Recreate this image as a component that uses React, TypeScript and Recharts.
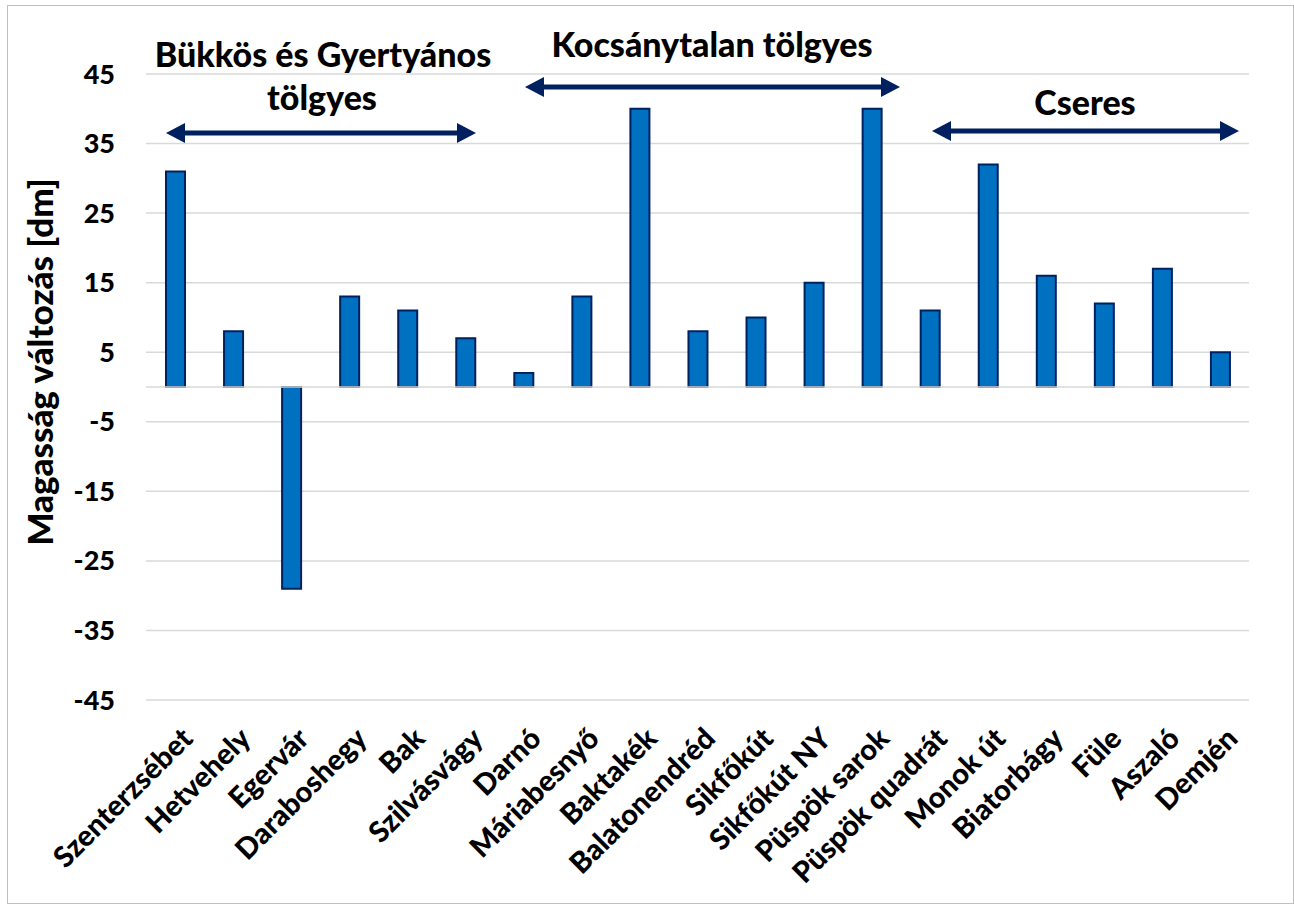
import { BarChart, Bar, XAxis, YAxis, CartesianGrid, ReferenceLine } from 'recharts';

const SITES = [
  'Szenterzsébet',
  'Hetvehely',
  'Egervár',
  'Daraboshegy',
  'Bak',
  'Szilvásvágy',
  'Darnó',
  'Máriabesnyő',
  'Baktakék',
  'Balatonendréd',
  'Sikfőkút',
  'Sikfőkút NY',
  'Püspök sarok',
  'Püspök quadrát',
  'Monok út',
  'Biatorbágy',
  'Füle',
  'Aszaló',
  'Demjén',
];
const HEIGHT_CHANGE = [31, 8, -29, 13, 11, 7, 2, 13, 40, 8, 10, 15, 40, 11, 32, 16, 12, 17, 5];
const Y_TICKS = [-45, -35, -25, -15, -5, 5, 15, 25, 35, 45];
const Y_TITLE = 'Magasság változás [dm]';

const FONT = "Lato, 'Open Sans', sans-serif";
const NAVY = '#002060';
const BAR_FILL = '#0070C0';
const GRID = '#d9d9d9';

const data = SITES.map((site, i) => ({ site, value: HEIGHT_CHANGE[i] }));

function SiteTick(props: any) {
  const { x, y, payload } = props;
  return (
    <g transform={`translate(${x + 3},${y + 24}) rotate(-45)`}>
      <text
        textAnchor="end"
        dominantBaseline="hanging"
        fontFamily={FONT}
        fontWeight={900}
        fontSize={29}
        fill="#000"
      >
        {payload.value}
      </text>
    </g>
  );
}

// double-headed arrow used for the forest type brackets
function Arrow({ x1, x2, y }: { x1: number; x2: number; y: number }) {
  const head = 19;
  const half = 10;
  return (
    <g fill={NAVY}>
      <line x1={x1 + head - 2} x2={x2 - head + 2} y1={y} y2={y} stroke={NAVY} strokeWidth={5} />
      <polygon points={`${x1},${y} ${x1 + head},${y - half} ${x1 + head},${y + half}`} />
      <polygon points={`${x2},${y} ${x2 - head},${y - half} ${x2 - head},${y + half}`} />
    </g>
  );
}

const labelStyle = { fontFamily: FONT, fontWeight: 900, fontSize: 34, fill: '#000' };

export default function App() {
  return (
    <div style={{ position: 'absolute', left: 0, top: 0, width: 1294, height: 904, background: '#fff' }}>
      <div
        style={{
          position: 'absolute',
          left: 7,
          top: 5,
          width: 1287,
          height: 899,
          boxSizing: 'border-box',
          border: '1.5px solid #bfbfbf',
        }}
      />
      <div style={{ position: 'absolute', left: 0, top: 0 }}>
        <BarChart width={1294} height={904} data={data} margin={{ top: 74, right: 45, bottom: 0, left: 0 }}>
          <CartesianGrid stroke={GRID} strokeWidth={1.5} vertical={false} />
          <XAxis
            dataKey="site"
            interval={0}
            height={204}
            axisLine={false}
            tickLine={false}
            tickSize={0}
            tickMargin={0}
            tick={<SiteTick />}
          />
          <YAxis
            domain={[-45, 45]}
            ticks={Y_TICKS}
            interval={0}
            width={146}
            axisLine={false}
            tickLine={false}
            tickSize={0}
            tickMargin={31}
            tick={{ fill: '#000', fontSize: 27, fontWeight: 900, fontFamily: FONT }}
          />
          <ReferenceLine y={0} stroke={GRID} strokeWidth={1.5} />
          <Bar
            dataKey="value"
            barSize={19}
            fill={BAR_FILL}
            stroke={NAVY}
            strokeWidth={2}
            isAnimationActive={false}
          />
        </BarChart>
      </div>
      <svg width={1294} height={904} style={{ position: 'absolute', left: 0, top: 0, pointerEvents: 'none' }}>
        <text
          transform="translate(39,362) rotate(-90)"
          textAnchor="middle"
          dominantBaseline="central"
          {...labelStyle}
          fontSize={35}
        >
          {Y_TITLE}
        </text>
        <text x={323} y={67} textAnchor="middle" {...labelStyle}>Bükkös és Gyertyános</text>
        <text x={322} y={110} textAnchor="middle" {...labelStyle}>tölgyes</text>
        <text x={712} y={57} textAnchor="middle" {...labelStyle}>Kocsánytalan tölgyes</text>
        <text x={1085} y={115} textAnchor="middle" {...labelStyle}>Cseres</text>
        <Arrow x1={166} x2={476} y={133} />
        <Arrow x1={525} x2={900} y={87} />
        <Arrow x1={932} x2={1239} y={131} />
      </svg>
    </div>
  );
}
